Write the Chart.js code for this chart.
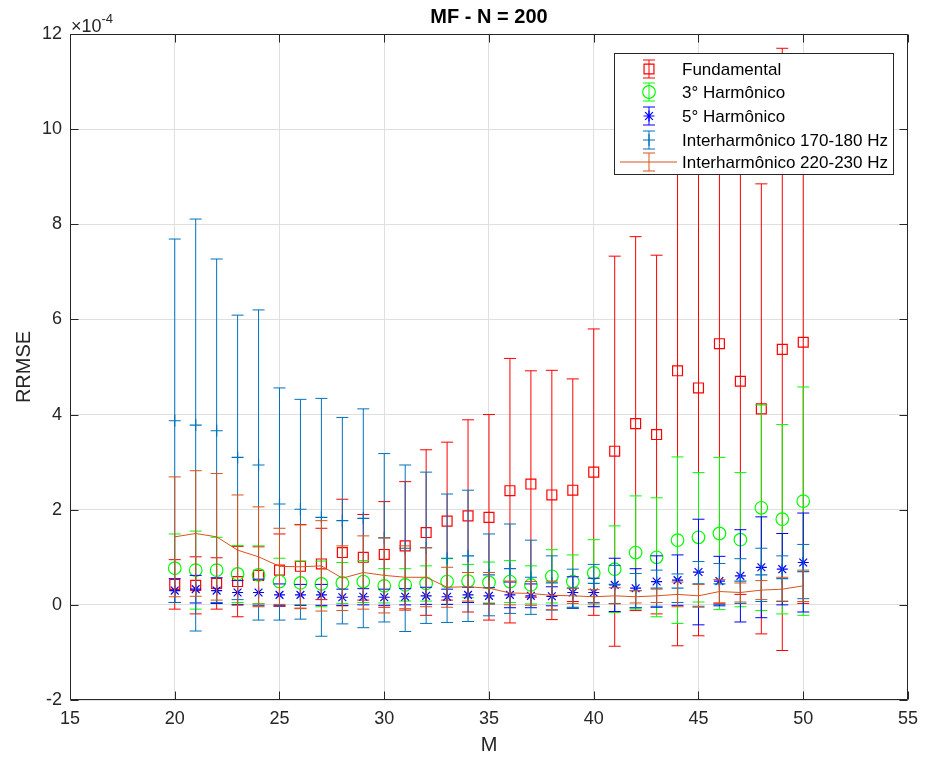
<!DOCTYPE html>
<html>
<head>
<meta charset="utf-8">
<title>MF - N = 200</title>
<script src="https://cdn.jsdelivr.net/npm/chart.js@4.4.1/dist/chart.umd.min.js"></script>
<style>
  html, body { margin: 0; padding: 0; background: #fff; }
</style>
</head>
<body>
<canvas id="rrmseChart" width="926" height="762"></canvas>
<script>
const FONT = "'Liberation Sans', Arial, Helvetica, sans-serif";
const INK = '#262626';

// RRMSE em unidades de 1e-4 (média e meia-largura da barra de erro)
const mValues = [20, 21, 22, 23, 24, 25, 26, 27, 28, 29, 30, 31, 32, 33, 34, 35,
                 36, 37, 38, 39, 40, 41, 42, 43, 44, 45, 46, 47, 48, 49, 50];

const fundMean = [0.43, 0.41, 0.45, 0.49, 0.62, 0.73, 0.81, 0.86, 1.10, 1.00, 1.06, 1.24, 1.52, 1.76, 1.87, 1.84,
                  2.40, 2.54, 2.31, 2.41, 2.79, 3.23, 3.81, 3.58, 4.92, 4.56, 5.49, 4.70, 4.12, 5.37, 5.52];
const fundErr  = [0.52, 0.60, 0.54, 0.74, 0.60, 0.76, 0.88, 0.75, 1.12, 0.90, 1.11, 1.35, 1.74, 1.66, 2.02, 2.16,
                  2.78, 2.38, 2.62, 2.34, 3.01, 4.10, 3.93, 3.77, 5.78, 5.21, 5.45, 4.48, 4.73, 6.33, 5.49];

const h3Mean = [0.77, 0.73, 0.73, 0.65, 0.63, 0.49, 0.46, 0.44, 0.46, 0.49, 0.40, 0.42, 0.45, 0.49, 0.50, 0.47,
                0.49, 0.42, 0.60, 0.49, 0.67, 0.75, 1.10, 1.00, 1.36, 1.42, 1.50, 1.37, 2.04, 1.80, 2.18];
const h3Err  = [0.72, 0.82, 0.69, 0.60, 0.61, 0.49, 0.46, 0.48, 0.43, 0.44, 0.36, 0.34, 0.37, 0.48, 0.35, 0.43,
                0.44, 0.40, 0.56, 0.56, 0.70, 0.91, 1.19, 1.25, 1.75, 1.36, 1.60, 1.41, 2.16, 1.99, 2.40];

const h5Mean = [0.30, 0.33, 0.30, 0.26, 0.26, 0.21, 0.21, 0.21, 0.16, 0.17, 0.16, 0.17, 0.19, 0.17, 0.21, 0.19,
                0.21, 0.19, 0.18, 0.26, 0.26, 0.42, 0.35, 0.49, 0.52, 0.69, 0.50, 0.61, 0.79, 0.75, 0.89];
const h5Err  = [0.25, 0.29, 0.27, 0.25, 0.28, 0.23, 0.22, 0.22, 0.17, 0.17, 0.17, 0.17, 0.18, 0.16, 0.16, 0.17,
                0.27, 0.25, 0.20, 0.33, 0.30, 0.56, 0.41, 0.54, 0.53, 1.11, 0.52, 0.97, 1.06, 0.75, 1.04];

const ih175Mean = [3.87, 3.78, 3.66, 3.10, 2.94, 2.12, 2.01, 1.84, 1.77, 1.82, 1.41, 1.19, 1.20, 0.98, 1.03, 0.63,
                   0.76, 0.58, 0.46, 0.35, 0.45, 0.43, 0.30, 0.35, 0.35, 0.44, 0.44, 0.50, 0.63, 0.55, 0.70];
const ih175Err  = [3.82, 4.33, 3.61, 2.99, 3.26, 2.44, 2.31, 2.50, 2.17, 2.30, 1.77, 1.75, 1.59, 1.35, 1.38, 0.86,
                   0.94, 0.78, 0.57, 0.40, 0.40, 0.40, 0.36, 0.38, 0.30, 0.47, 0.43, 0.47, 0.56, 0.48, 0.57];

const ih225Mean = [1.43, 1.50, 1.43, 1.15, 1.01, 0.81, 0.80, 0.82, 0.56, 0.68, 0.62, 0.58, 0.58, 0.37, 0.38, 0.35,
                   0.25, 0.24, 0.20, 0.19, 0.17, 0.19, 0.17, 0.19, 0.22, 0.19, 0.28, 0.26, 0.31, 0.33, 0.40];
const ih225Err  = [1.26, 1.32, 1.33, 1.16, 1.05, 0.80, 0.88, 0.95, 0.68, 0.77, 0.79, 0.66, 0.62, 0.42, 0.30, 0.33,
                   0.25, 0.25, 0.30, 0.16, 0.15, 0.17, 0.13, 0.14, 0.26, 0.24, 0.25, 0.20, 0.20, 0.25, 0.33];

const xTicks = [15, 20, 25, 30, 35, 40, 45, 50, 55];
const yTicks = [-2, 0, 2, 4, 6, 8, 10, 12];

const series = [
  {label: 'Fundamental', color: '#FF0000', mean: fundMean, err: fundErr, marker: 'rect', radius: 7},
  {label: '3° Harmônico', color: '#00FF00', mean: h3Mean, err: h3Err, marker: 'circle', radius: 6.3},
  {label: '5° Harmônico', color: '#0000FF', mean: h5Mean, err: h5Err, marker: 'star', radius: 5.5},
  {label: 'Interharmônico 170-180 Hz', color: '#0072BD', mean: ih175Mean, err: ih175Err, marker: 'cross', radius: 6},
  {label: 'Interharmônico 220-230 Hz', color: '#D95319', mean: ih225Mean, err: ih225Err, marker: null, line: true}
];

const CAP = 6;      // meia-largura do "chapéu" da barra
const TICK = 8;     // marcas internas dos eixos
const MARK_W = 1.2; // espessura dos marcadores

function drawMarker(ctx, style, r, x, y) {
  ctx.lineWidth = MARK_W;
  ctx.beginPath();
  if (style === 'rect') {
    const s = r * Math.SQRT1_2;
    ctx.rect(x - s, y - s, 2 * s, 2 * s);
  } else if (style === 'circle') {
    ctx.arc(x, y, r, 0, Math.PI * 2);
  } else if (style === 'cross' || style === 'star') {
    ctx.moveTo(x, y - r); ctx.lineTo(x, y + r);
    ctx.moveTo(x - r, y); ctx.lineTo(x + r, y);
    if (style === 'star') {
      const d = r * Math.SQRT1_2;
      ctx.moveTo(x - d, y - d); ctx.lineTo(x + d, y + d);
      ctx.moveTo(x - d, y + d); ctx.lineTo(x + d, y - d);
    }
  }
  ctx.stroke();
}

// barras de erro desenhadas antes dos marcadores de cada série
const errorBars = {
  id: 'errorBars',
  beforeDatasetDraw(chart, args) {
    const ds = chart.data.datasets[args.index];
    if (!ds.errors) return;
    const {ctx, chartArea: a, scales: {x, y}} = chart;
    ctx.save();
    ctx.beginPath();
    ctx.rect(a.left, a.top, a.right - a.left, a.bottom - a.top);
    ctx.clip();
    ctx.strokeStyle = ds.borderColor;
    ctx.lineWidth = 1;
    ctx.beginPath();
    ds.data.forEach((pt, i) => {
      const e = ds.errors[i];
      const px = x.getPixelForValue(pt.x);
      const top = y.getPixelForValue(pt.y + e);
      const bot = y.getPixelForValue(pt.y - e);
      ctx.moveTo(px, top); ctx.lineTo(px, bot);
      ctx.moveTo(px - CAP, top); ctx.lineTo(px + CAP, top);
      ctx.moveTo(px - CAP, bot); ctx.lineTo(px + CAP, bot);
    });
    ctx.stroke();
    ctx.restore();
  }
};

// caixa dos eixos, marcas internas, título, expoente e legenda
const decorations = {
  id: 'decorations',
  afterDraw(chart) {
    const {ctx, chartArea: a, scales: {x, y}} = chart;
    ctx.save();
    ctx.strokeStyle = INK;
    ctx.lineWidth = 1;
    const L = Math.round(a.left) + 0.5, R = Math.round(a.right) - 0.5;
    const T = Math.round(a.top) + 0.5, B = Math.round(a.bottom) - 0.5;
    ctx.beginPath();
    ctx.rect(L, T, R - L, B - T);
    xTicks.forEach(v => {
      const px = Math.round(x.getPixelForValue(v)) + 0.5;
      ctx.moveTo(px, B); ctx.lineTo(px, B - TICK);
      ctx.moveTo(px, T); ctx.lineTo(px, T + TICK);
    });
    yTicks.forEach(v => {
      const py = Math.round(y.getPixelForValue(v)) + 0.5;
      ctx.moveTo(L, py); ctx.lineTo(L + TICK, py);
      ctx.moveTo(R, py); ctx.lineTo(R - TICK, py);
    });
    ctx.stroke();

    // título
    ctx.fillStyle = '#000';
    ctx.font = 'bold 20px ' + FONT;
    ctx.textAlign = 'center';
    ctx.textBaseline = 'middle';
    ctx.fillText('MF - N = 200', (a.left + a.right) / 2, 17);

    // fator de escala do eixo y
    ctx.fillStyle = INK;
    ctx.textAlign = 'left';
    ctx.textBaseline = 'alphabetic';
    ctx.font = '18px ' + FONT;
    ctx.fillText('\u00d710', a.left + 1, 32);
    const w = ctx.measureText('\u00d710').width;
    ctx.font = '13px ' + FONT;
    ctx.fillText('-4', a.left + 1 + w, 23);

    // legenda
    const box = {left: 614.5, top: 53.5, right: 893.5, bottom: 174.5};
    ctx.fillStyle = '#fff';
    ctx.fillRect(box.left, box.top, box.right - box.left, box.bottom - box.top);
    ctx.strokeStyle = INK;
    ctx.strokeRect(box.left, box.top, box.right - box.left, box.bottom - box.top);
    const rowY = [69, 92, 116, 140, 162];
    const gx = 649;
    ctx.font = '17px ' + FONT;
    ctx.textBaseline = 'middle';
    series.forEach((s, i) => {
      const cy = rowY[i];
      ctx.strokeStyle = s.color;
      ctx.lineWidth = 1;
      ctx.beginPath();
      if (s.line) { ctx.moveTo(620, cy); ctx.lineTo(677, cy); }
      ctx.moveTo(gx, cy - 9); ctx.lineTo(gx, cy + 9);
      ctx.moveTo(gx - CAP, cy - 9); ctx.lineTo(gx + CAP, cy - 9);
      ctx.moveTo(gx - CAP, cy + 9); ctx.lineTo(gx + CAP, cy + 9);
      ctx.stroke();
      if (s.marker) drawMarker(ctx, s.marker, s.radius, gx, cy);
      ctx.fillStyle = '#000';
      ctx.fillText(s.label, 682, cy + 1);
    });
    ctx.restore();
  }
};

const ctx = document.getElementById('rrmseChart').getContext('2d');
new Chart(ctx, {
  type: 'scatter',
  data: {
    datasets: series.map((s, i) => ({
      label: s.label,
      data: mValues.map((m, j) => ({x: m, y: s.mean[j]})),
      errors: s.err,
      borderColor: s.color,
      backgroundColor: s.color,
      borderWidth: 1,
      showLine: !!s.line,
      pointStyle: s.marker || 'circle',
      pointRadius: s.marker ? s.radius : 0,
      pointHoverRadius: s.marker ? s.radius : 0,
      pointBorderColor: s.color,
      pointBackgroundColor: 'rgba(0,0,0,0)',
      pointBorderWidth: MARK_W,
      order: series.length - i
    }))
  },
  options: {
    responsive: false,
    animation: false,
    devicePixelRatio: 1,
    layout: {padding: {top: 34, right: 14, bottom: 5, left: 0}},
    plugins: {
      legend: {display: false},
      title: {display: false},
      tooltip: {enabled: false}
    },
    scales: {
      x: {
        type: 'linear',
        min: 15,
        max: 55,
        afterBuildTicks: axis => { axis.ticks = xTicks.map(v => ({value: v})); },
        afterFit: axis => { axis.height = 57; },
        grid: {color: '#dfdfdf', drawTicks: false},
        border: {display: false},
        ticks: {color: INK, font: {family: FONT, size: 18}, padding: 8, maxRotation: 0},
        title: {display: true, text: 'M', color: INK, font: {family: FONT, size: 20}, padding: {top: 0, bottom: 0}}
      },
      y: {
        type: 'linear',
        min: -2,
        max: 12,
        afterBuildTicks: axis => { axis.ticks = yTicks.map(v => ({value: v})); },
        afterFit: axis => { axis.width = 70; },
        grid: {color: '#dfdfdf', drawTicks: false},
        border: {display: false},
        ticks: {color: INK, font: {family: FONT, size: 18}, padding: 8},
        title: {display: true, text: 'RRMSE', color: INK, font: {family: FONT, size: 20}, padding: {top: 12, bottom: 0}}
      }
    }
  },
  plugins: [errorBars, decorations]
});
</script>
</body>
</html>
